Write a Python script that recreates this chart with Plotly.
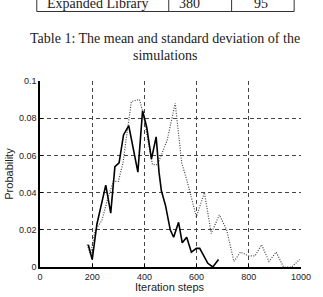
import plotly.graph_objects as go

# ---- data ----
solid_x = [185, 200, 218, 252, 271, 287, 303, 320, 340, 375, 393, 409, 427, 445,
           456, 465, 481, 499, 512, 531, 545, 562, 580, 599, 612, 643, 662, 684]
solid_y = [0.012, 0.004, 0.023, 0.044, 0.029, 0.054, 0.056, 0.071, 0.076, 0.051,
           0.084, 0.075, 0.058, 0.070, 0.051, 0.041, 0.033, 0.020, 0.016, 0.024,
           0.013, 0.016, 0.008, 0.010, 0.010, 0.002, 0.0, 0.004]

dotted_x = [181, 193, 212, 237, 262, 281, 300, 318, 350, 381, 393, 412, 431, 450,
            487, 518, 543, 562, 599, 630, 656, 687, 715, 743, 768, 799, 824, 849,
            877, 905, 933, 964, 995]
dotted_y = [0.012, 0.0066, 0.020, 0.025, 0.038, 0.046, 0.046, 0.056, 0.089, 0.090,
            0.084, 0.070, 0.055, 0.055, 0.068, 0.088, 0.056, 0.047, 0.027, 0.040,
            0.018, 0.028, 0.020, 0.003, 0.008, 0.006, 0.006, 0.012, 0.003, 0.008,
            0.0, 0.0, 0.004]

x_ticks = [0, 200, 400, 600, 800, 1000]
y_ticks = [0, 0.02, 0.04, 0.06, 0.08, 0.1]
y_tick_labels = ["0", "0.02", "0.04", "0.06", "0.08", "0.1"]

table_row = ["Expanded Library", "380", "95"]
caption_lines = ["Table 1: The mean and standard deviation of the", "simulations"]

W, H = 323, 297
L, R, T, B = 40, 16, 81, 30
PW, PH = W - L - R, H - T - B


def px(x):
    return (x - L) / PW


def py(y):
    return (H - B - y) / PH


fig = go.Figure()
fig.add_trace(go.Scatter(x=dotted_x, y=dotted_y, mode="lines",
                         line=dict(color="#444444", width=1.2, dash="1px,1.5px"),
                         showlegend=False, hoverinfo="skip"))
fig.add_trace(go.Scatter(x=solid_x, y=solid_y, mode="lines",
                         line=dict(color="black", width=1.6),
                         showlegend=False, hoverinfo="skip"))

grid = dict(showgrid=True, gridcolor="#444444", gridwidth=1, griddash="4px,3px")
fig.update_xaxes(range=[0, 1000], tickvals=x_ticks, ticktext=[str(v) for v in x_ticks],
                 showline=True, linecolor="black", linewidth=1.5, zeroline=False,
                 ticks="inside", ticklen=3, tickcolor="black",
                 tickfont=dict(family="Liberation Sans", size=9, color="#222"), **grid)
fig.update_yaxes(range=[0, 0.1], tickvals=y_ticks, ticktext=y_tick_labels,
                 showline=True, linecolor="black", linewidth=1.5, zeroline=False,
                 ticks="inside", ticklen=3, tickcolor="black",
                 tickfont=dict(family="Liberation Sans", size=9, color="#222"), **grid)

shapes = []
# table fragment borders
tb_top, tb_bot = -5, 11.5
tx = [36.7, 171.7, 236, 300]
shapes.append(dict(type="line", xref="paper", yref="paper", x0=px(tx[0]), x1=px(tx[-1]),
                   y0=py(tb_bot), y1=py(tb_bot), line=dict(color="#333", width=1)))
for xv in tx:
    shapes.append(dict(type="line", xref="paper", yref="paper", x0=px(xv), x1=px(xv),
                       y0=py(tb_top), y1=py(tb_bot), line=dict(color="#333", width=1)))

serif = dict(family="Liberation Serif", size=14, color="#222")
ann = []
cell_cx = [99, 193, 266]
for t, cx in zip(table_row, cell_cx):
    ann.append(dict(text=t, x=px(cx), y=py(3.5), xref="paper", yref="paper",
                    xanchor="center", yanchor="middle", showarrow=False, font=serif))
ann.append(dict(text=caption_lines[0], x=px(168), y=py(39), xref="paper", yref="paper",
                xanchor="center", yanchor="middle", showarrow=False, font=serif))
ann.append(dict(text=caption_lines[1], x=px(168), y=py(56), xref="paper", yref="paper",
                xanchor="center", yanchor="middle", showarrow=False, font=serif))
ann.append(dict(text="Iteration steps", x=px(173), y=py(287), xref="paper", yref="paper",
                xanchor="center", yanchor="middle", showarrow=False,
                font=dict(family="Liberation Sans", size=11, color="#222")))
ann.append(dict(text="Probability", x=px(8), y=py(174), xref="paper", yref="paper",
                xanchor="center", yanchor="middle", showarrow=False, textangle=-90,
                font=dict(family="Liberation Sans", size=11, color="#222")))

fig.update_layout(width=W, height=H, margin=dict(l=L, r=R, t=T, b=B),
                  paper_bgcolor="white", plot_bgcolor="white",
                  shapes=shapes, annotations=ann, showlegend=False)

fig.write_html("out.html", config={"displayModeBar": False})
